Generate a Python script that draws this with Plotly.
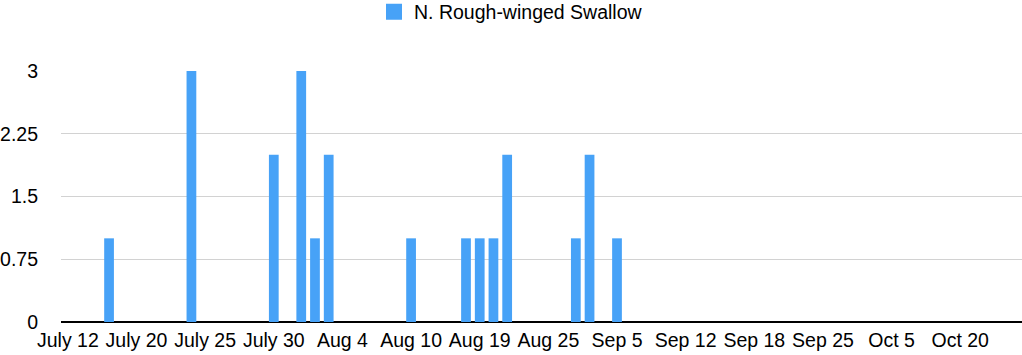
import plotly.graph_objects as go

# Observation days (category index) and counts of N. Rough-winged Swallow
n_days = 70
counts = [0, 0, 0, 1, 0, 0, 0, 0, 0, 3,
          0, 0, 0, 0, 0, 2, 0, 3, 1, 2,
          0, 0, 0, 0, 0, 1, 0, 0, 0, 1,
          1, 1, 2, 0, 0, 0, 0, 1, 2, 0,
          1, 0, 0, 0, 0, 0, 0, 0, 0, 0,
          0, 0, 0, 0, 0, 0, 0, 0, 0, 0,
          0, 0, 0, 0, 0, 0, 0, 0, 0, 0]
tick_labels = ["July 12", "July 20", "July 25", "July 30", "Aug 4", "Aug 10",
               "Aug 19", "Aug 25", "Sep 5", "Sep 12", "Sep 18", "Sep 25",
               "Oct 5", "Oct 20"]
tick_every = 5
y_ticks = [0, 0.75, 1.5, 2.25, 3]
y_tick_text = ["0", "0.75", "1.5", "2.25", "3"]
series_name = "N. Rough-winged Swallow"

days = list(range(n_days))
tick_pos = [i * tick_every for i in range(len(tick_labels))]

font_family = "Liberation Sans, Arial, Helvetica, sans-serif"
bar_color = "#47A2F7"
fsize = 19.5

fig = go.Figure()
fig.add_trace(go.Bar(
    x=days, y=counts, name=series_name,
    marker=dict(color=bar_color, line=dict(width=0)),
    width=0.71, showlegend=False,
))
# legend entry with a larger square swatch
fig.add_trace(go.Scatter(
    x=[None], y=[None], mode="markers", name=series_name,
    marker=dict(symbol="square", size=16, color=bar_color),
    showlegend=True, hoverinfo="skip",
))

fig.update_layout(
    width=1022, height=355,
    margin=dict(l=61, r=0, t=71, b=33, autoexpand=False),
    paper_bgcolor="white", plot_bgcolor="white",
    font=dict(family=font_family, size=fsize, color="#000000"),
    showlegend=True,
    legend=dict(orientation="h", xref="container", yref="container",
                x=0.5, xanchor="center", y=0.966, yanchor="middle",
                font=dict(size=fsize), itemsizing="trace",
                bgcolor="rgba(0,0,0,0)"),
    bargap=0.29,
)
fig.update_xaxes(
    range=[-0.5, n_days - 0.5],
    tickmode="array", tickvals=tick_pos, ticktext=tick_labels,
    tickangle=0, automargin=False,
    showgrid=False, showline=False, zeroline=False,
    ticks="", tickfont=dict(size=fsize), ticklabelstandoff=4,
    fixedrange=True,
)
fig.update_yaxes(
    range=[0, 3],
    tickmode="array", tickvals=y_ticks, ticktext=y_tick_text,
    automargin=False,
    showgrid=True, gridcolor="#d2d2d2", gridwidth=1,
    zeroline=True, zerolinecolor="#000000", zerolinewidth=2,
    showline=False, ticks="", tickfont=dict(size=fsize),
    ticklabelstandoff=22, fixedrange=True,
)

fig.write_html("out.html")
